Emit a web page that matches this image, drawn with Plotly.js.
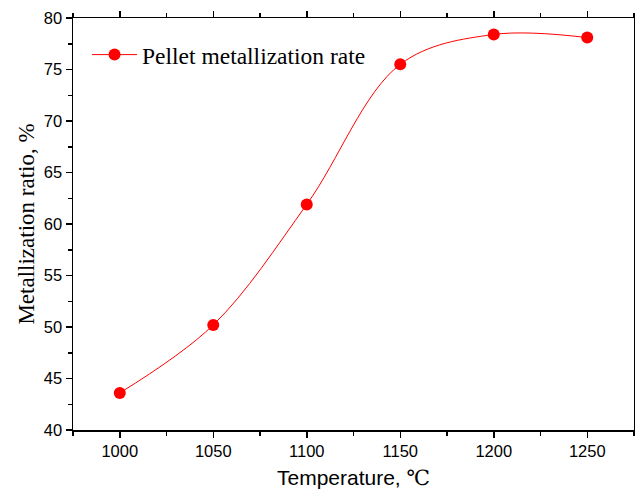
<!DOCTYPE html>
<html>
<head>
<meta charset="utf-8">
<script src="https://cdn.plot.ly/plotly-3.0.1.min.js"></script>
<style>html,body{margin:0;padding:0;background:#fff;}#chart{width:635px;height:492px;}</style>
</head>
<body>
<div id="chart"></div>
<script>
const temperatures = [1000, 1050, 1100, 1150, 1200, 1250];
const metallization = [43.6, 50.2, 61.9, 75.5, 78.4, 78.1];
const seriesName = 'Pellet metallization rate';
const xTicks = [1000, 1050, 1100, 1150, 1200, 1250];
const yTicks = [40, 45, 50, 55, 60, 65, 70, 75, 80];

const trace = {
  x: temperatures,
  y: metallization,
  name: seriesName,
  type: 'scatter',
  mode: 'lines+markers',
  line: {color: '#ff0000', width: 1, shape: 'spline', smoothing: 1},
  marker: {color: '#ff0000', size: 12, symbol: 'circle'},
  cliponaxis: false
};

const axisCommon = {
  showgrid: false,
  zeroline: false,
  showline: true,
  linecolor: '#000',
  linewidth: 1.5,
  mirror: 'ticks',
  ticks: 'outside',
  ticklen: 6,
  tickwidth: 1.5,
  tickcolor: '#000',
  tickfont: {family: 'Liberation Sans, Arial, sans-serif', size: 16.5, color: '#000'}
};

const layout = {
  width: 635,
  height: 492,
  margin: {l: 73, r: 1, t: 18, b: 62},
  paper_bgcolor: '#fff',
  plot_bgcolor: '#fff',
  showlegend: true,
  legend: {
    x: 0.025, y: 0.964, xanchor: 'left', yanchor: 'top',
    itemwidth: 45,
    bgcolor: 'rgba(0,0,0,0)',
    font: {family: 'Liberation Serif, Times New Roman, serif', size: 23.5, color: '#000'}
  },
  xaxis: Object.assign({}, axisCommon, {
    range: [975, 1275],
    tickvals: xTicks,
    ticktext: xTicks.map(String),
    minor: {dtick: 25, tick0: 975, ticks: 'outside', ticklen: 4, tickwidth: 1.5, tickcolor: '#000'},
    title: {text: "Temperature, <span style=\"font-family:'DejaVu Serif'\">℃</span>", font: {family: 'Liberation Sans, Arial, sans-serif', size: 21, color: '#000'}, standoff: 11}
  }),
  yaxis: Object.assign({}, axisCommon, {
    range: [40, 80],
    tickvals: yTicks,
    ticktext: yTicks.map(String),
    minor: {dtick: 2.5, tick0: 40, ticks: 'outside', ticklen: 4, tickwidth: 1.5, tickcolor: '#000'},
    title: {text: 'Metallization ratio, %', font: {family: 'Liberation Serif, Times New Roman, serif', size: 23, color: '#000'}, standoff: 3}
  })
};

Plotly.newPlot('chart', [trace], layout, {displayModeBar: false, staticPlot: true});
</script>
</body>
</html>
